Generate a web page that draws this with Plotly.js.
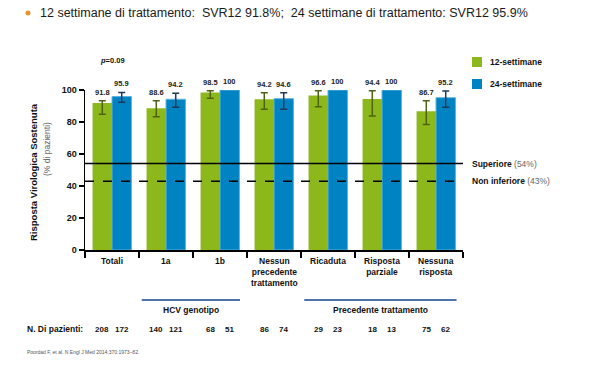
<!DOCTYPE html>
<html>
<head>
<meta charset="utf-8">
<script src="https://cdn.plot.ly/plotly-3.0.1.min.js"></script>
<style>html,body{margin:0;padding:0;background:#fff;}#chart{width:600px;height:383px;}</style>
</head>
<body>
<div id="chart"></div>
<script>
// ---- data ----
var categories = ["Totali", "1a", "1b", "Nessun<br>precedente<br>trattamento", "Ricaduta", "Risposta<br>parziale", "Nessuna<br>risposta"];
var seriesNames = ["12-settimane", "24-settimane"];
var svr12 = [91.8, 88.6, 98.5, 94.2, 96.6, 94.4, 86.7];
var svr24 = [95.9, 94.2, 100, 94.6, 100, 100, 95.2];
var ci12Low  = [84.8, 83.3, 94.8, 87.9, 89.6, 83.8, 78.5];
var ci12High = [93.3, 93.3, 99.6, 98.3, 99.6, 99.6, 93.3];
var ci24Low  = [92.3, 89.2, null, 87.9, null, null, 89.2];
var ci24High = [98.5, 98.0, null, 98.3, null, null, 99.4];
var n12 = [208, 140, 68, 86, 29, 18, 75];
var n24 = [172, 121, 51, 74, 23, 13, 62];
var yTicks = [0, 20, 40, 60, 80, 100];
var superiore = 54;
var nonInferiore = 43;
var groupLabels = ["HCV genotipo", "Precedente trattamento"];
var groupFrom = [0.55, 3.56];
var groupTo = [2.37, 6.38];
var titleText = "12 settimane di trattamento:  SVR12 91.8%;  24 settimane di trattamento: SVR12 95.9%";
var pValue = "0.09";
var footer = "Poordad F, et al. N Engl J Med 2014;370:1973–82.";
var yTitle1 = "Risposta Virologica Sostenuta";
var yTitle2 = "(% di pazienti)";
var nLabel = "N. Di pazienti:";

// ---- style ----
var FONT = "'Liberation Sans', Arial, sans-serif";
var GREEN = "#8cb81c", BLUE = "#0083c2";
var L = 85, R = 463, T = 90, B = 250;
var idx = categories.map(function(c, i){ return i; });

function errPlus(v, hi){ return v.map(function(x,i){ return hi[i]==null ? NaN : hi[i]-x; }); }
function errMinus(v, lo){ return v.map(function(x,i){ return lo[i]==null ? NaN : x-lo[i]; }); }
function pxX(px){ return (px-L)/(R-L); }
function pxY(py){ return (B-py)/(B-T); }

var traces = [
  {type:"bar", x: idx, y: svr12, name: seriesNames[0], marker:{color:GREEN},
   error_y:{type:"data", symmetric:false, array: errPlus(svr12, ci12High), arrayminus: errMinus(svr12, ci12Low),
            color:"#4d6312", thickness:1.5, width:3.5}, hoverinfo:"skip"},
  {type:"bar", x: idx, y: svr24, name: seriesNames[1], marker:{color:BLUE, line:{color:"#5db3e0", width:1}},
   error_y:{type:"data", symmetric:false, array: errPlus(svr24, ci24High), arrayminus: errMinus(svr24, ci24Low),
            color:"#1d3a58", thickness:1.5, width:3.5}, hoverinfo:"skip"}
];

var annotations = [];
var shapes = [];
var OFF = 0.18;
function ann(o){ if(!o.xanchor) o.xanchor = "center"; if(!o.yanchor) o.yanchor = "middle"; o.showarrow = false; annotations.push(o); }

// category labels
categories.forEach(function(c,i){
  ann({x:i, y:0, xref:"x", yref:"y", yanchor:"top", yshift:-4,
    text:"<b>"+c+"</b>", font:{family:FONT, size:8.5, color:"#111"}});
});
// bar value labels
svr12.forEach(function(v,i){
  var top = ci12High[i]==null ? v : ci12High[i];
  ann({x: i-OFF, y: top, xref:"x", yref:"y", text: "<b>"+v+"</b>",
    yanchor:"bottom", yshift:2, font:{family:FONT, size:7.5, color:"#222"}});
});
svr24.forEach(function(v,i){
  var top = ci24High[i]==null ? v : ci24High[i];
  ann({x: i+OFF, y: top, xref:"x", yref:"y", text: "<b>"+v+"</b>",
    yanchor:"bottom", yshift:2, font:{family:FONT, size:7.5, color:"#222"}});
});
// patient counts
ann({x: pxX(25), y: pxY(329), xref:"paper", yref:"paper", xanchor:"left", text:"<b>"+nLabel+"</b>",
  font:{family:FONT, size:8.5, color:"#111"}});
n12.forEach(function(n,i){
  ann({x: i-OFF, y: pxY(329), xref:"x", yref:"paper", text:"<b>"+n+"</b>",
    font:{family:FONT, size:8, color:"#111"}});
});
n24.forEach(function(n,i){
  ann({x: i+OFF, y: pxY(329), xref:"x", yref:"paper", text:"<b>"+n+"</b>",
    font:{family:FONT, size:8, color:"#111"}});
});
// groups
groupLabels.forEach(function(g,k){
  shapes.push({type:"line", xref:"x", yref:"paper", x0:groupFrom[k], x1:groupTo[k], y0:pxY(300), y1:pxY(300),
    line:{color:"#4f74ad", width:2}});
  ann({x:(groupFrom[k]+groupTo[k])/2, y:pxY(310), xref:"x", yref:"paper", text:"<b>"+g+"</b>",
    font:{family:FONT, size:8.5, color:"#111"}});
});
// reference lines
shapes.push({type:"line", xref:"paper", yref:"y", x0:0, x1:1, y0:superiore, y1:superiore, layer:"above",
  line:{color:"#000", width:1.5}});
shapes.push({type:"line", xref:"paper", yref:"y", x0:0, x1:1, y0:nonInferiore, y1:nonInferiore, layer:"above",
  line:{color:"#000", width:1.5, dash:"dash"}});
ann({x: pxX(470), y: superiore, xref:"paper", yref:"y", xanchor:"left",
  text:"<b>Superiore</b> <span style='color:#666'>("+superiore+"%)</span>", font:{family:FONT, size:8.5, color:"#111"}});
ann({x: pxX(470), y: nonInferiore, xref:"paper", yref:"y", xanchor:"left",
  text:"<b>Non inferiore</b> <span style='color:#666'>("+nonInferiore+"%)</span>", font:{family:FONT, size:8.5, color:"#111"}});
// legend (manual)
[[GREEN, 62, seriesNames[0]], [BLUE, 84, seriesNames[1]]].forEach(function(it){
  shapes.push({type:"rect", xref:"paper", yref:"paper", x0:pxX(472), x1:pxX(482), y0:pxY(it[1]-5), y1:pxY(it[1]+5),
    fillcolor:it[0], line:{width:0}});
  ann({x:pxX(488), y:pxY(it[1]), xref:"paper", yref:"paper", xanchor:"left",
    text:"<b>"+it[2]+"</b>", font:{family:FONT, size:8.5, color:"#111"}});
});
// p value
ann({x:0, y:pxY(60), xref:"x", yref:"paper", text:"<b><i>p</i>="+pValue+"</b>",
  font:{family:FONT, size:7.5, color:"#111"}});
// y title
ann({x:pxX(33), y:pxY(172), xref:"paper", yref:"paper", textangle:-90,
  text:"<b>"+yTitle1+"</b>", font:{family:FONT, size:9.5, color:"#111"}});
ann({x:pxX(47), y:pxY(149), xref:"paper", yref:"paper", textangle:-90,
  text:yTitle2, font:{family:FONT, size:8.5, color:"#666"}});
// bullet + footer
shapes.push({type:"circle", xref:"paper", yref:"paper", x0:pxX(25.5), x1:pxX(30.5), y0:pxY(15.5), y1:pxY(10.5),
  fillcolor:"#e8912d", line:{width:0}});
ann({x:pxX(25), y:pxY(352), xref:"paper", yref:"paper", xanchor:"left", text:footer,
  font:{family:FONT, size:5, color:"#555"}});

var layout = {
  width:600, height:383,
  margin:{l:L, r:600-R, t:T, b:383-B, pad:0},
  paper_bgcolor:"#fff", plot_bgcolor:"#fff",
  showlegend:false,
  barmode:"group", bargap:0.28, bargroupgap:0,
  title:{text:titleText, x:40/600, xanchor:"left", xref:"container", y:1-13/383, yanchor:"middle", yref:"container",
    font:{family:FONT, size:12.5, color:"#1a1a1a"}},
  xaxis:{type:"linear", range:[-0.5, 6.5], tickmode:"array", tickvals:[-0.5,0.5,1.5,2.5,3.5,4.5,5.5,6.5],
    ticktext:["","","","","","","",""], ticks:"outside", ticklen:6, tickwidth:1.5, tickcolor:"#000",
    showgrid:false, zeroline:false, showline:true, linecolor:"#000", linewidth:1.5, fixedrange:true},
  yaxis:{range:[0, 100], tickmode:"array", tickvals:yTicks, ticktext:yTicks.map(function(t){return "<b>"+t+"</b>";}),
    showgrid:false, zeroline:false, showline:true, linecolor:"#000", linewidth:1.5,
    ticks:"outside", ticklen:5, tickwidth:1.5, tickcolor:"#000", tickfont:{family:FONT, size:9, color:"#111"}, fixedrange:true},
  shapes:shapes,
  annotations:annotations
};

Plotly.newPlot("chart", traces, layout, {displayModeBar:false, staticPlot:true});
</script>
</body>
</html>
